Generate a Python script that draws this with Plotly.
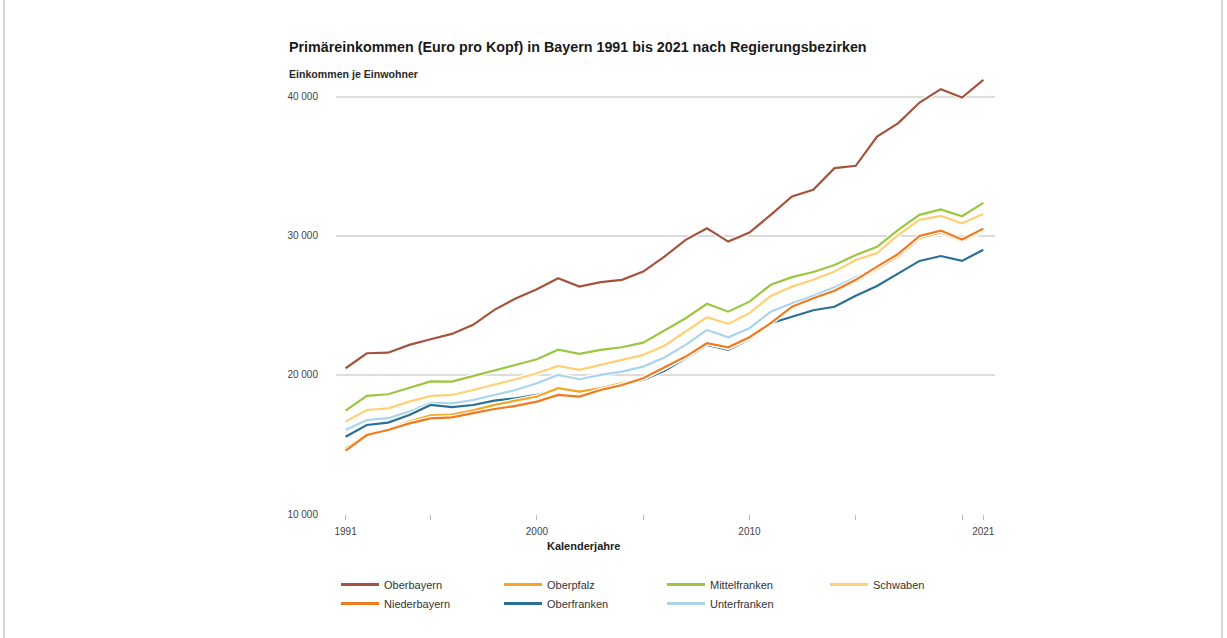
import plotly.graph_objects as go

years = list(range(1991, 2022))

oberbayern = [20480, 21560, 21600, 22160, 22570, 22950, 23600, 24680, 25500, 26170,
              26960, 26350, 26670, 26840, 27430, 28510, 29710, 30550, 29590, 30240,
              31510, 32830, 33310, 34870, 35040, 37140, 38110, 39590, 40550, 39950, 41220]
niederbayern = [14550, 15680, 16040, 16520, 16880, 16950, 17250, 17550, 17770, 18080,
                18560, 18440, 18920, 19280, 19760, 20550, 21320, 22280, 21990, 22710,
                23720, 24910, 25520, 26050, 26840, 27790, 28700, 29990, 30380, 29740, 30520]
oberpfalz = [14700, 15750, 16100, 16650, 17100, 17150, 17450, 17850, 18150, 18450,
             19050, 18800, 19050, 19400, 19750, 20500, 21300, 22300, 21950, 22650,
             23780, 24850, 25450, 26000, 26750, 27650, 28550, 29850, 30250, 29650, 30420]
oberfranken = [15560, 16400, 16570, 17120, 17840, 17680, 17840, 18150, 18320, 18560,
               19040, 18730, 19040, 19400, 19640, 20300, 21200, 22160, 21800, 22570,
               23720, 24190, 24650, 24900, 25700, 26400, 27300, 28200, 28550, 28200, 29000]
mittelfranken = [17430, 18490, 18610, 19080, 19540, 19520, 19930, 20360, 20720, 21130,
                 21820, 21510, 21800, 21990, 22320, 23180, 24080, 25120, 24550, 25270,
                 26480, 27030, 27400, 27900, 28630, 29210, 30430, 31510, 31900, 31410, 32370]
unterfranken = [16040, 16760, 16890, 17360, 18000, 17960, 18200, 18560, 18920, 19400,
                20000, 19690, 20000, 20240, 20600, 21260, 22160, 23240, 22710, 23360,
                24550, 25160, 25700, 26300, 27000, 27700, 28600, 29900, 30200, 29600, 30330]
schwaben = [16640, 17480, 17600, 18080, 18490, 18560, 18920, 19280, 19690, 20120,
            20650, 20360, 20720, 21080, 21440, 22100, 23115, 24150, 23670, 24440,
            25680, 26350, 26840, 27430, 28270, 28760, 30070, 31150, 31440, 30910, 31580]

series_names = ["Oberbayern", "Oberpfalz", "Mittelfranken", "Schwaben",
                "Niederbayern", "Oberfranken", "Unterfranken"]
series_values = [oberbayern, oberpfalz, mittelfranken, schwaben,
                 niederbayern, oberfranken, unterfranken]
series_colors = ["#A4533E", "#F5A623", "#9CC63F", "#FFD074",
                 "#F07A1E", "#2A6F95", "#A9D5EC"]

y_tick_vals = [10000, 20000, 30000, 40000]
y_tick_text = ["10 000", "20 000", "30 000", "40 000"]
x_tick_vals = [1991, 1995, 2000, 2005, 2010, 2015, 2020, 2021]
x_tick_text = ["1991", "", "2000", "", "2010", "", "", "2021"]

W, H = 1227, 638
ml, mr, mt, mb = 336, 232, 69, 124
pw, ph = W - ml - mr, H - mt - mb

def px_x(p):
    return (p - ml) / pw

def px_y(p):
    return (H - mb - p) / ph

fig = go.Figure()

# draw order: back to front
draw_order = [0, 2, 3, 6, 5, 1, 4]
for i in draw_order:
    fig.add_trace(go.Scatter(
        x=years, y=series_values[i], mode="lines",
        line=dict(color="white", width=4.5),
        showlegend=False, hoverinfo="skip"))
    fig.add_trace(go.Scatter(
        x=years, y=series_values[i], mode="lines", name=series_names[i],
        line=dict(color=series_colors[i], width=2.2),
        showlegend=False))

# legend entries in reference order
for i in range(len(series_names)):
    fig.add_trace(go.Scatter(
        x=[None], y=[None], mode="lines", name=series_names[i],
        line=dict(color=series_colors[i], width=3),
        legendrank=i + 1))

fig.update_layout(
    width=W, height=H,
    margin=dict(l=ml, r=mr, t=mt, b=mb),
    paper_bgcolor="white", plot_bgcolor="white",
    font=dict(family="Liberation Sans, Arial, sans-serif", color="#333333"),
    showlegend=True,
    legend=dict(
        orientation="h", x=0, xanchor="left", y=px_y(570), yanchor="top",
        entrywidth=110, entrywidthmode="pixels",
        font=dict(size=11, color="#333333"),
        tracegroupgap=0, itemwidth=38,
    ),
    xaxis=dict(
        range=[1990.55, 2021.55], tickmode="array",
        tickvals=x_tick_vals, ticktext=x_tick_text,
        showgrid=False, zeroline=False,
        ticks="outside", ticklen=5, tickcolor="#bbbbbb", tickwidth=1,
        tickfont=dict(size=10, color="#444444"),
        ticklabelstandoff=3,
        showline=False,
    ),
    yaxis=dict(
        range=[10000, 42000], tickmode="array",
        tickvals=y_tick_vals, ticktext=y_tick_text,
        showgrid=True, gridcolor="#dcdcdc", gridwidth=2,
        zeroline=False, showline=False, ticks="",
        tickfont=dict(size=10, color="#444444"),
        ticklabelstandoff=17,
    ),
    annotations=[
        dict(text="<b>Primäreinkommen (Euro pro Kopf) in Bayern 1991 bis 2021 nach Regierungsbezirken</b>",
             xref="paper", yref="paper", x=px_x(287), y=px_y(47),
             xanchor="left", yanchor="middle", showarrow=False,
             font=dict(size=14.3, color="#1a1a1a")),
        dict(text="<b>Einkommen je Einwohner</b>",
             xref="paper", yref="paper", x=px_x(287), y=px_y(74),
             xanchor="left", yanchor="middle", showarrow=False,
             font=dict(size=10.6, color="#2a2a2a")),
        dict(text="<b>Kalenderjahre</b>",
             xref="paper", yref="paper", x=px_x(583), y=px_y(546),
             xanchor="center", yanchor="middle", showarrow=False,
             font=dict(size=11, color="#222222")),
    ],
    shapes=[
        dict(type="line", xref="paper", yref="paper",
             x0=px_x(4), x1=px_x(4), y0=px_y(0), y1=px_y(H),
             line=dict(color="#c8c8c8", width=1.5)),
        dict(type="line", xref="paper", yref="paper",
             x0=px_x(1222), x1=px_x(1222), y0=px_y(0), y1=px_y(H),
             line=dict(color="#c8c8c8", width=1.5)),
    ],
)

fig.write_html("out.html", config={"displayModeBar": False},
               post_script="document.body.style.margin='0px';")
